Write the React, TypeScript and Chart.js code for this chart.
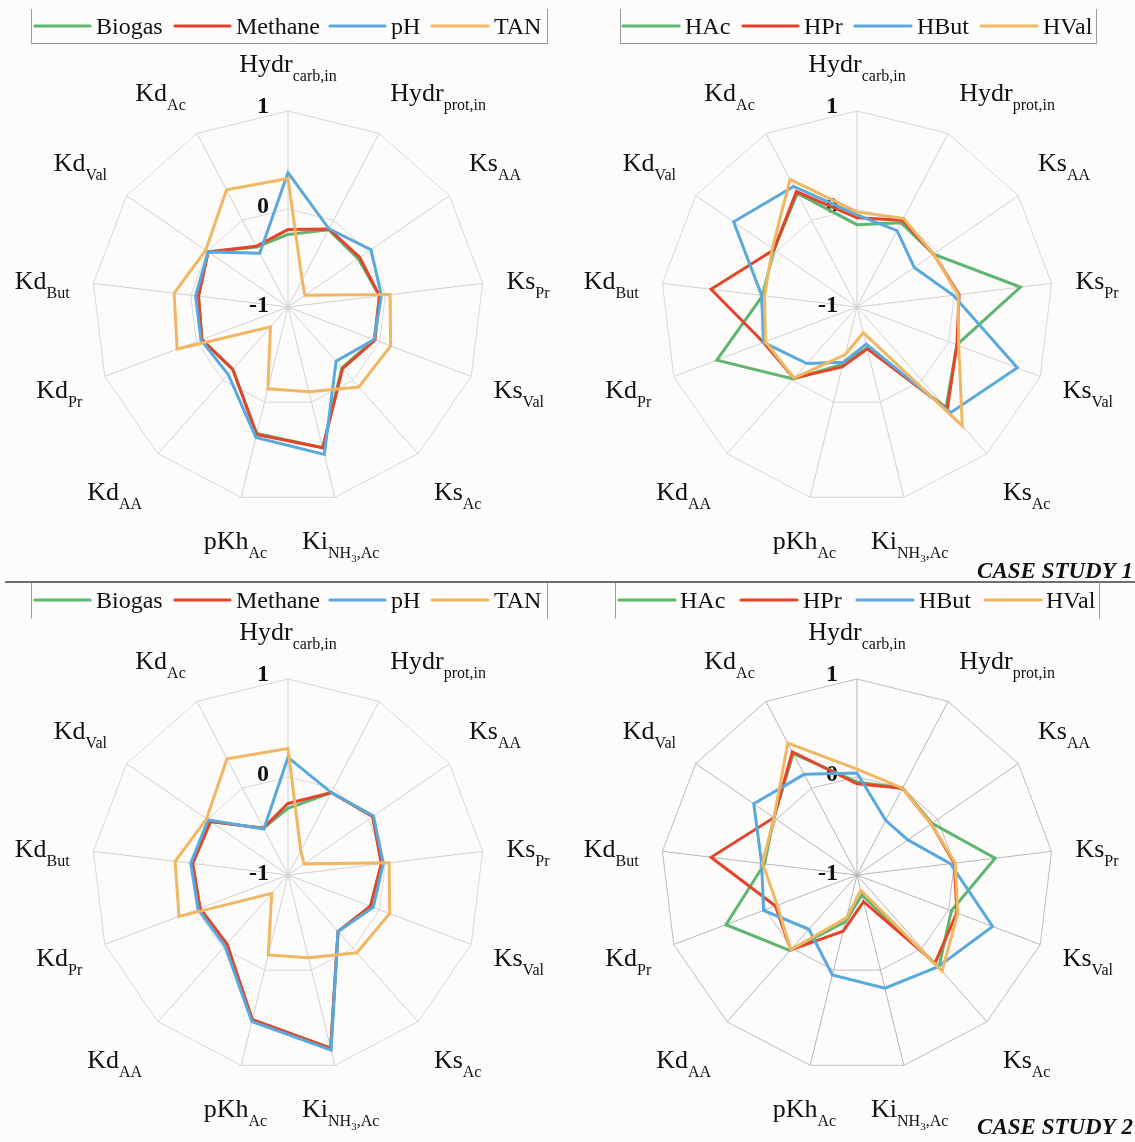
import React, { useEffect, useRef } from 'react';
import { Chart, registerables } from 'chart.js';

Chart.register(...registerables);

// ---------- DATA ----------
const axisMain = ['Hydr', 'Hydr', 'Ks', 'Ks', 'Ks', 'Ks', 'Ki', 'pKh', 'Kd', 'Kd', 'Kd', 'Kd', 'Kd'];
const axisSub = ['carb,in', 'prot,in', 'AA', 'Pr', 'Val', 'Ac', 'NH{3},Ac', 'Ac', 'AA', 'Pr', 'But', 'Val', 'Ac'];
const tickValues = [1, 0, -1];

const outputNames = ['Biogas', 'Methane', 'pH', 'TAN'];
const acidNames = ['HAc', 'HPr', 'HBut', 'HVal'];

// Case study 1 – outputs
const biogas1 = [-0.26, -0.11, -0.13, -0.06, -0.06, -0.17, 0.48, 0.33, -0.15, -0.06, -0.08, -0.01, -0.31];
const methane1 = [-0.21, -0.1, -0.11, -0.06, -0.05, -0.16, 0.48, 0.34, -0.15, -0.06, -0.08, -0.01, -0.3];
const ph1 = [0.37, -0.1, 0.03, -0.04, -0.06, -0.26, 0.55, 0.37, -0.08, -0.05, -0.05, -0.01, -0.38];
const tan1 = [0.31, -0.69, -0.79, 0.05, 0.12, 0.09, -0.11, -0.14, -0.73, 0.21, 0.17, 0.02, 0.35];

// Case study 1 – acids
const hac1 = [-0.16, -0.03, -0.05, 0.68, 0.09, 0.37, -0.57, -0.4, -0.02, 0.53, -0.03, 0.03, 0.31];
const hpr1 = [-0.09, 0.0, -0.05, 0.05, 0.09, 0.39, -0.56, -0.37, -0.03, 0.02, 0.5, 0.03, 0.33];
const hbut1 = [-0.06, -0.12, -0.29, -0.01, 0.75, 0.44, -0.61, -0.42, -0.23, 0.02, -0.02, 0.53, 0.39];
const hval1 = [-0.03, 0.02, -0.05, 0.04, 0.11, 0.62, -0.73, -0.5, -0.03, 0.0, -0.05, 0.05, 0.47];

// Case study 2 – outputs
const biogas2 = [-0.32, -0.05, 0.05, -0.04, -0.1, -0.23, 0.82, 0.52, -0.06, -0.04, -0.02, -0.04, -0.46];
const methane2 = [-0.27, -0.05, 0.05, -0.04, -0.1, -0.23, 0.82, 0.52, -0.06, -0.04, -0.02, -0.04, -0.46];
const ph2 = [0.2, -0.05, 0.06, -0.02, -0.07, -0.23, 0.84, 0.54, -0.03, -0.02, 0.0, -0.01, -0.47];
const tan2 = [0.29, -0.72, -0.8, 0.04, 0.11, 0.06, -0.13, -0.16, -0.75, 0.19, 0.16, 0.01, 0.34];

// Case study 2 – acids
const hac2 = [-0.05, 0.0, -0.07, 0.42, 0.03, 0.26, -0.79, -0.51, 0.03, 0.43, -0.05, 0.03, 0.4];
const hpr2 = [-0.07, 0.0, -0.08, 0.0, 0.09, 0.2, -0.72, -0.41, 0.02, -0.11, 0.5, 0.03, 0.42];
const hbut2 = [0.04, -0.37, -0.37, -0.04, 0.48, 0.25, 0.19, 0.05, -0.26, 0.02, -0.02, 0.28, 0.16];
const hval2 = [0.08, 0.0, -0.08, 0.01, 0.1, 0.31, -0.84, -0.55, 0.02, -0.13, -0.03, 0.03, 0.52];

const seriesColors = ['#5db56f', '#e4442a', '#5aa9dc', '#f0b763'];

// ---------- LAYOUT ----------
const R = 196;
const LABEL_R = 220;
const SERIF = '"Liberation Serif", "Times New Roman", serif';

type Legend = {
  y: number;
  lines: [number, number][];
  texts: number[];
  left: number;
  right: number;
  top: number;
  bottom: number;
  bottomBorder: boolean;
};

type Panel = {
  ox: number; oy: number; w: number; h: number; cx: number; cy: number;
  names: string[]; series: number[][]; legend: Legend;
  grid: string; angle: string; caption: string | null; captionY: number;
};

const legendOut = (y: number, top: number, bottom: number, bottomBorder: boolean): Legend => ({
  y,
  lines: [[35, 90], [175, 230], [330, 385], [432, 488]],
  texts: [96, 236, 391, 494],
  left: 31, right: 547, top, bottom, bottomBorder,
});

const panels: Panel[] = [
  {
    ox: 0, oy: 0, w: 568, h: 580, cx: 288, cy: 307,
    names: outputNames, series: [biogas1, methane1, ph1, tan1],
    legend: legendOut(26, 9, 43, true),
    grid: '#d8d8d8', angle: '#d0d0d0', caption: null, captionY: 0,
  },
  {
    ox: 568, oy: 0, w: 567, h: 580, cx: 857, cy: 307,
    names: acidNames, series: [hac1, hpr1, hbut1, hval1],
    legend: {
      y: 26,
      lines: [[623, 679], [743, 798], [855, 911], [981, 1037]],
      texts: [685, 804, 917, 1043],
      left: 620, right: 1096, top: 9, bottom: 43, bottomBorder: true,
    },
    grid: '#d8d8d8', angle: '#d0d0d0', caption: 'CASE STUDY 1', captionY: 578,
  },
  {
    ox: 0, oy: 580, w: 568, h: 562, cx: 288, cy: 875,
    names: outputNames, series: [biogas2, methane2, ph2, tan2],
    legend: legendOut(600, 583, 618, false),
    grid: '#d8d8d8', angle: '#d0d0d0', caption: null, captionY: 0,
  },
  {
    ox: 568, oy: 580, w: 567, h: 562, cx: 857, cy: 875,
    names: acidNames, series: [hac2, hpr2, hbut2, hval2],
    legend: {
      y: 600,
      lines: [[619, 675], [741, 797], [857, 913], [985, 1041]],
      texts: [680, 803, 919, 1046],
      left: 615, right: 1099, top: 583, bottom: 618, bottomBorder: false,
    },
    grid: '#bdbdbd', angle: '#b5b5b5', caption: 'CASE STUDY 2', captionY: 1134,
  },
];

function parseSub(sub: string): [string, number][] {
  const segs: [string, number][] = [];
  const re = /\{([^}]*)\}/g;
  let last = 0;
  let m: RegExpExecArray | null;
  while ((m = re.exec(sub))) {
    if (m.index > last) segs.push([sub.slice(last, m.index), 1]);
    segs.push([m[1], 2]);
    last = m.index + m[0].length;
  }
  if (last < sub.length) segs.push([sub.slice(last), 1]);
  return segs;
}

function drawRichLabel(
  ctx: CanvasRenderingContext2D, main: string, sub: string,
  px: number, py: number, sin: number, cos: number,
) {
  const fonts = [`26px ${SERIF}`, `16px ${SERIF}`, `11px ${SERIF}`];
  const drops = [0, 9, 13];
  const segs: [string, number][] = [[main, 0], ...parseSub(sub)];
  const widths = segs.map(([t, lvl]) => {
    ctx.font = fonts[lvl];
    return ctx.measureText(t).width;
  });
  const total = widths.reduce((a, b) => a + b, 0);
  let x0: number;
  if (Math.abs(sin) < 0.3) x0 = px - total / 2;
  else if (sin > 0) x0 = px;
  else x0 = px - total;
  let off: number;
  if (Math.abs(sin) < 0.05 && cos > 0) off = -24;
  else {
    const k = Math.min(1, Math.max(0, (Math.abs(cos) - 0.3) / 0.25));
    off = -20 * Math.sign(cos) * k;
  }
  const base = py + off + 8.5;
  let cur = x0;
  ctx.textAlign = 'left';
  ctx.textBaseline = 'alphabetic';
  segs.forEach(([t, lvl], i) => {
    ctx.font = fonts[lvl];
    ctx.fillText(t, cur, base + drops[lvl]);
    cur += widths[i];
  });
}

function makeDecor(p: Panel) {
  return {
    id: 'decor',
    beforeDatasetsDraw(chart: any) {
      const ctx: CanvasRenderingContext2D = chart.ctx;
      const s = chart.scales.r;
      ctx.save();
      ctx.fillStyle = '#111111';
      ctx.font = `bold 24px ${SERIF}`;
      ctx.textAlign = 'right';
      ctx.textBaseline = 'alphabetic';
      tickValues.forEach((v, i) => {
        const d = s.getDistanceFromCenterForValue(v);
        ctx.fillText(String(v), s.xCenter - 19, s.yCenter - d + 2 + i * 1.5);
      });
      ctx.restore();
    },
    afterDraw(chart: any) {
      const ctx: CanvasRenderingContext2D = chart.ctx;
      const s = chart.scales.r;
      ctx.save();
      ctx.fillStyle = '#111111';
      axisMain.forEach((m, i) => {
        const pt = s.getPointPosition(i, LABEL_R);
        const sin = (pt.x - s.xCenter) / LABEL_R;
        const cos = -(pt.y - s.yCenter) / LABEL_R;
        drawRichLabel(ctx, m, axisSub[i], pt.x, pt.y, sin, cos);
      });

      // legend
      const L = p.legend;
      const ox = p.ox;
      const oy = p.oy;
      ctx.strokeStyle = '#9a9a9a';
      ctx.lineWidth = 1;
      ctx.beginPath();
      ctx.moveTo(L.left - ox + 0.5, L.top - oy);
      ctx.lineTo(L.left - ox + 0.5, L.bottom - oy + 0.5);
      if (L.bottomBorder) ctx.lineTo(L.right - ox + 0.5, L.bottom - oy + 0.5);
      else ctx.moveTo(L.right - ox + 0.5, L.bottom - oy + 0.5);
      ctx.lineTo(L.right - ox + 0.5, L.top - oy);
      ctx.stroke();

      p.names.forEach((name, k) => {
        const [a, b] = L.lines[k];
        ctx.strokeStyle = seriesColors[k];
        ctx.lineWidth = 3.2;
        ctx.lineCap = 'round';
        ctx.beginPath();
        ctx.moveTo(a - ox, L.y - oy);
        ctx.lineTo(b - ox, L.y - oy);
        ctx.stroke();
        ctx.fillStyle = '#111111';
        ctx.font = `24px ${SERIF}`;
        ctx.textAlign = 'left';
        ctx.textBaseline = 'alphabetic';
        ctx.fillText(name, L.texts[k] - ox, L.y - oy + 8);
      });

      if (p.caption) {
        ctx.fillStyle = '#111111';
        ctx.font = `italic bold 23px ${SERIF}`;
        ctx.textAlign = 'right';
        ctx.textBaseline = 'alphabetic';
        ctx.fillText(p.caption, 1133 - ox, p.captionY - oy);
      }
      ctx.restore();
    },
  };
}

function RadarPanel({ p }: { p: Panel }) {
  const ref = useRef<HTMLCanvasElement | null>(null);
  useEffect(() => {
    if (!ref.current) return;
    const padding = {
      left: p.cx - p.ox - R,
      top: p.cy - p.oy - R,
      right: p.ox + p.w - (p.cx + R),
      bottom: p.oy + p.h - (p.cy + R),
    };
    const chart = new Chart(ref.current, {
      type: 'radar',
      data: {
        labels: axisMain.map((m, i) => `${m} ${axisSub[i]}`),
        datasets: p.series.map((data, k) => ({
          label: p.names[k],
          data,
          borderColor: seriesColors[k],
          backgroundColor: 'rgba(0,0,0,0)',
          borderWidth: 3,
          pointRadius: 0,
          pointHoverRadius: 0,
          fill: false,
          tension: 0,
          order: 4 - k,
        })),
      },
      options: {
        responsive: false,
        animation: false,
        devicePixelRatio: 1,
        events: [],
        layout: { padding },
        plugins: {
          legend: { display: false },
          tooltip: { enabled: false },
          title: { display: false },
        },
        scales: {
          r: {
            min: -1,
            max: 1,
            ticks: { display: false, stepSize: 1 },
            pointLabels: { display: false },
            grid: { color: p.grid, lineWidth: 1 },
            angleLines: { color: p.angle, lineWidth: 1 },
          },
        },
      } as any,
      plugins: [makeDecor(p)],
    });
    return () => chart.destroy();
  }, [p]);
  return (
    <canvas
      ref={ref}
      width={p.w}
      height={p.h}
      style={{ position: 'absolute', left: p.ox, top: p.oy, width: p.w, height: p.h }}
    />
  );
}

export default function App() {
  return (
    <div
      style={{
        position: 'fixed',
        left: 0,
        top: 0,
        width: 1135,
        height: 1142,
        background: '#fdfcfb',
        overflow: 'hidden',
      }}
    >
      {panels.map((p, i) => (
        <RadarPanel key={i} p={p} />
      ))}
      <div
        style={{
          position: 'absolute',
          left: 5,
          top: 581,
          width: 1130,
          height: 2,
          background: '#6e6e6e',
        }}
      />
    </div>
  );
}
